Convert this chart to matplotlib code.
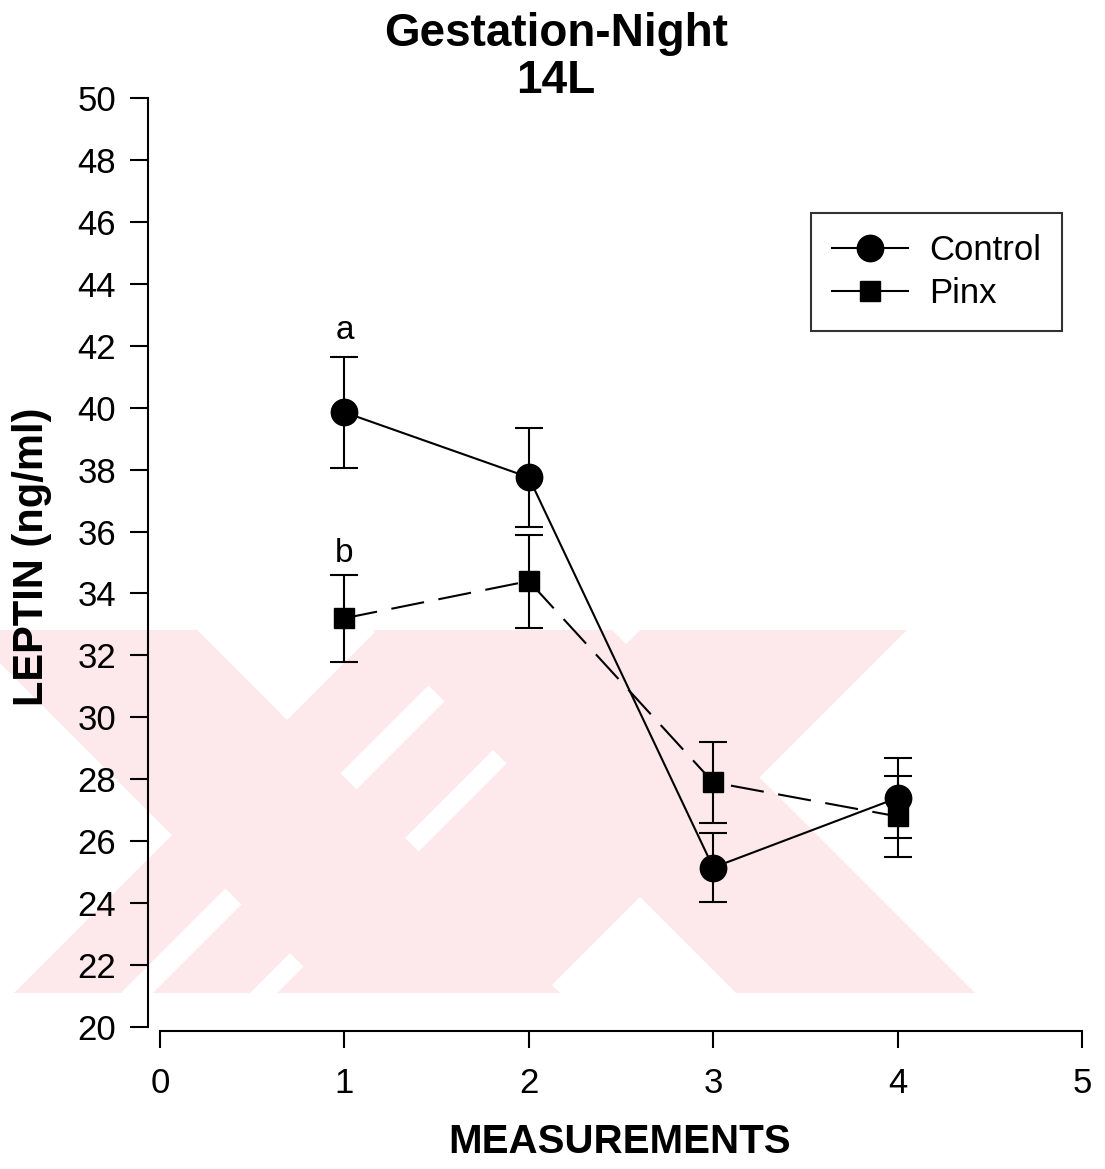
import numpy as np
import matplotlib
matplotlib.use("Agg")
import matplotlib.pyplot as plt
from matplotlib.patches import Polygon, Rectangle

plt.rcParams["font.family"] = ["Liberation Sans", "DejaVu Sans"]

# --- data ---
measurements = [1, 2, 3, 4]
control_mean = [39.85, 37.75, 25.15, 27.4]
control_se = [1.8, 1.6, 1.1, 1.3]
pinx_mean = [33.2, 34.4, 27.9, 26.8]
pinx_se = [1.4, 1.5, 1.3, 1.3]
x_ticks = [0, 1, 2, 3, 4, 5]
y_ticks = list(range(20, 51, 2))
letters = ["a", "b"]
letter_y = [42.5, 35.3]

W, H = 1105, 1169
fig = plt.figure(figsize=(W / 100, H / 100), dpi=100)

# faint pink scan watermark (two X shapes), figure pixel coords
wm_top, wm_bot, wm_right = 630, 993, 975
back = [(-33, 197), (373, 612)]
fwd = [(377, 484), (516, 613), (640, 907)]
clip = Rectangle((0, 1 - wm_bot / H), wm_right / W, (wm_bot - wm_top) / H,
                 transform=fig.transFigure, visible=False)
fig.add_artist(clip)
dh = wm_bot - wm_top
for a, b in back:
    pts = [(a, wm_top), (b, wm_top), (b + dh, wm_bot), (a + dh, wm_bot)]
    p = Polygon([(x / W, 1 - y / H) for x, y in pts], closed=True,
                transform=fig.transFigure, color="#fde9ec", lw=0, zorder=-5)
    fig.add_artist(p)
    p.set_clip_path(clip)
for a, b in fwd:
    pts = [(a, wm_top), (b, wm_top), (b - dh, wm_bot), (a - dh, wm_bot)]
    p = Polygon([(x / W, 1 - y / H) for x, y in pts], closed=True,
                transform=fig.transFigure, color="#fde9ec", lw=0, zorder=-5)
    fig.add_artist(p)
    p.set_clip_path(clip)

ax = fig.add_axes([148 / W, 1 - 1027 / H, (1082 - 148) / W, (1027 - 98) / H])
ax.set_facecolor("none")

ax.errorbar(measurements, control_mean, yerr=control_se, fmt="none",
            ecolor="black", elinewidth=1.5, capsize=10, capthick=1.5, zorder=2)
ax.errorbar(measurements, pinx_mean, yerr=pinx_se, fmt="none",
            ecolor="black", elinewidth=1.5, capsize=10, capthick=1.5, zorder=2)
ax.plot(measurements, control_mean, color="black", lw=1.5, marker="o",
        ms=19, mfc="black", mec="black", label="Control", zorder=3)
ax.plot(measurements, pinx_mean, color="black", lw=1.5, marker="s",
        ms=15, mfc="black", mec="black", dashes=(16, 7), label="Pinx", zorder=3)

for lab, ly in zip(letters, letter_y):
    ax.text(measurements[0], ly, lab, ha="center", va="center", fontsize=24)

ax.set_xlim(-0.065, 5)
ax.set_ylim(20, 50)
ax.set_xticks(x_ticks)
ax.set_yticks(y_ticks)
ax.tick_params(axis="both", direction="out", width=1.5, labelsize=25)
ax.tick_params(axis="y", length=13, pad=10)
ax.tick_params(axis="x", length=12, pad=14)
for s in ["top", "right"]:
    ax.spines[s].set_visible(False)
for s in ["left", "bottom"]:
    ax.spines[s].set_linewidth(1.5)
ax.spines["left"].set_bounds(20, 50)
ax.spines["bottom"].set_bounds(0, 5)
ax.spines["bottom"].set_position(("outward", 3))

leg = ax.legend(loc="upper right", bbox_to_anchor=(1062 / W, 1 - 213 / H),
                bbox_transform=fig.transFigure, fontsize=25, frameon=True,
                fancybox=False, edgecolor="black", handlelength=2.2,
                borderpad=0.6, labelspacing=0.3, handletextpad=0.6,
                borderaxespad=0)
leg.get_frame().set_linewidth(1.5)
for h in leg.get_lines():
    h.set_linestyle("-")

fig.text(556 / W, 1 - 34 / H, "Gestation-Night", ha="center", va="center",
         fontsize=33, fontweight="bold")
fig.text(556 / W, 1 - 81 / H, "14L", ha="center", va="center",
         fontsize=33, fontweight="bold")
fig.text(620 / W, 1 - 1142 / H, "MEASUREMENTS", ha="center", va="center",
         fontsize=29, fontweight="bold")
fig.text(32 / W, 1 - 557 / H, "LEPTIN (ng/ml)", ha="center", va="center",
         rotation=90, fontsize=30, fontweight="bold")

fig.savefig("out.png", dpi=100)
